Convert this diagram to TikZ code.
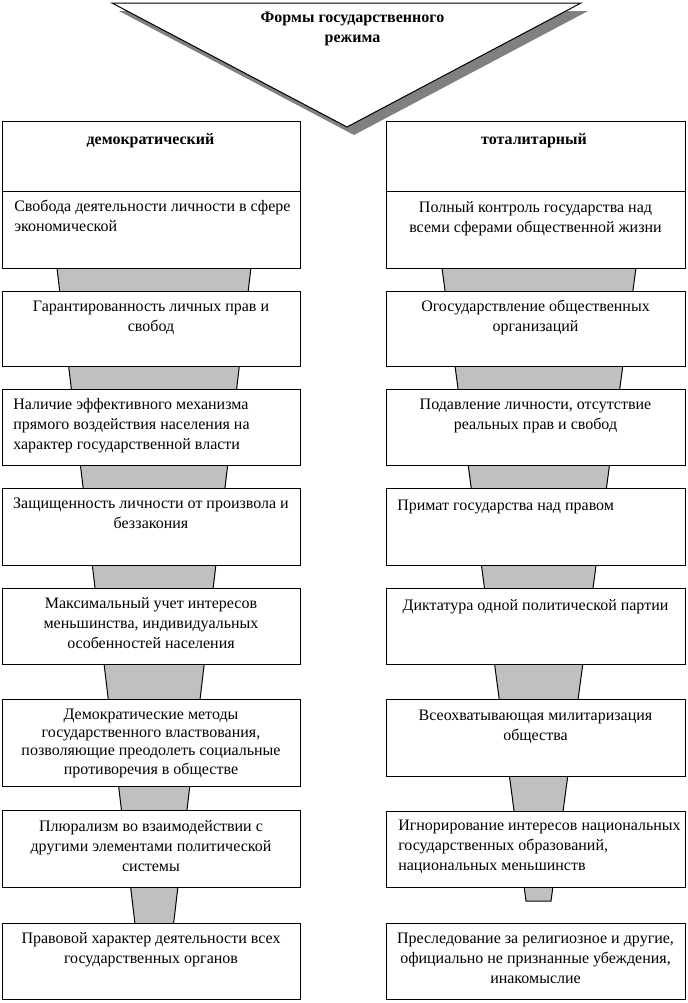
\documentclass[tikz,border=0pt]{standalone}
\usepackage{fontspec}
\setmainfont{Liberation Serif}
\definecolor{funnelgray}{HTML}{C0C0C0}
\definecolor{shadowgray}{HTML}{808080}
\tikzset{
  box/.style={draw=black, line width=0.75pt, fill=white},
  edge/.style={draw=black, line width=0.75pt},
  txt/.style={inner sep=0pt, font=\fontsize{12}{15}\selectfont, align=center, anchor=north},
  txtl/.style={txt, align=left, anchor=north west},
  hdr/.style={txt, font=\fontsize{12}{15}\selectfont\bfseries},
}
\begin{document}
\begin{tikzpicture}[x=0.75pt,y=-0.75pt]
\useasboundingbox (0,0) rectangle (688,1003);
% top triangle with shadow
\fill[shadowgray] (119,11) -- (588,11) -- (354,135) -- cycle;
\filldraw[edge, fill=white] (112,3) -- (581,3) -- (347,127) -- cycle;
\node[hdr] (title) at (352.5,8) {\strut Формы государственного\\режима};
% funnels
\fill[funnelgray] (47.8,191) -- (260,191) -- (169.3,960) -- (139.3,960) -- cycle;
\draw[edge] (47.8,191) -- (139.3,960);
\draw[edge] (260,191) -- (169.3,960);
\fill[funnelgray] (431.8,191) -- (646.3,191) -- (551,901) -- (526,901) -- cycle;
\draw[edge] (431.8,191) -- (526,901) -- (551,901) -- (646.3,191);
% left column boxes
\draw[box] (2,121) rectangle (300,191);
\draw[box] (2,191) rectangle (300,268);
\draw[box] (2,291) rectangle (300,366);
\draw[box] (2,389) rectangle (300,465);
\draw[box] (2,488) rectangle (300,565);
\draw[box] (2,588) rectangle (300,664);
\draw[box] (2,699) rectangle (300,786);
\draw[box] (2,810) rectangle (300,887);
\draw[box] (2,923) rectangle (300,999);
% right column boxes
\draw[box] (386,121) rectangle (685,191);
\draw[box] (386,191) rectangle (685,268);
\draw[box] (386,291) rectangle (685,366);
\draw[box] (386,389) rectangle (685,465);
\draw[box] (386,488) rectangle (685,565);
\draw[box] (386,588) rectangle (685,664);
\draw[box] (386,699) rectangle (685,776);
\draw[box] (386,811) rectangle (685,887);
\draw[box] (386,923) rectangle (685,999);
% left texts
\node[hdr] (lh) at (150.5,130) {\strut демократический};
\node[txtl] (l1) at (14,197) {\strut Свобода деятельности личности в сфере\\экономической};
\node[txt] (l2) at (151,297) {\strut Гарантированность личных прав и\\свобод};
\node[txtl] (l3) at (13,395) {\strut Наличие эффективного механизма\\прямого воздействия населения на\\характер государственной власти};
\node[txt] (l4) at (151,494) {\strut Защищенность личности от произвола и\\беззакония};
\node[txt] (l5) at (151,594) {\strut Максимальный учет интересов\\меньшинства, индивидуальных\\особенностей населения};
\node[txt, font=\fontsize{12}{13.8}\selectfont] (l6) at (151,706) {\strut Демократические методы\\государственного властвования,\\позволяющие преодолеть социальные\\противоречия в обществе};
\node[txt] (l7) at (151,817) {\strut Плюрализм во взаимодействии с\\другими элементами политической\\системы};
\node[txt] (l8) at (151,929) {\strut Правовой характер деятельности всех\\государственных органов};
% right texts
\node[hdr] (rh) at (534,130) {\strut тоталитарный};
\node[txt] (r1) at (535.5,198) {\strut Полный контроль государства над\\всеми сферами общественной жизни};
\node[txt] (r2) at (535.5,297) {\strut Огосударствление общественных\\организаций};
\node[txt] (r3) at (535.5,395) {\strut Подавление личности, отсутствие\\реальных прав и свобод};
\node[txtl] (r4) at (397,496) {\strut Примат государства над правом};
\node[txt] (r5) at (535.5,596) {\strut Диктатура одной политической партии};
\node[txt] (r6) at (535.5,706) {\strut Всеохватывающая милитаризация\\общества};
\node[txtl] (r7) at (398,816) {\strut Игнорирование интересов национальных\\государственных образований,\\национальных меньшинств};
\node[txt] (r8) at (535.5,929) {\strut Преследование за религиозное и другие,\\официально не признанные убеждения,\\инакомыслие};
\end{tikzpicture}
\end{document}
